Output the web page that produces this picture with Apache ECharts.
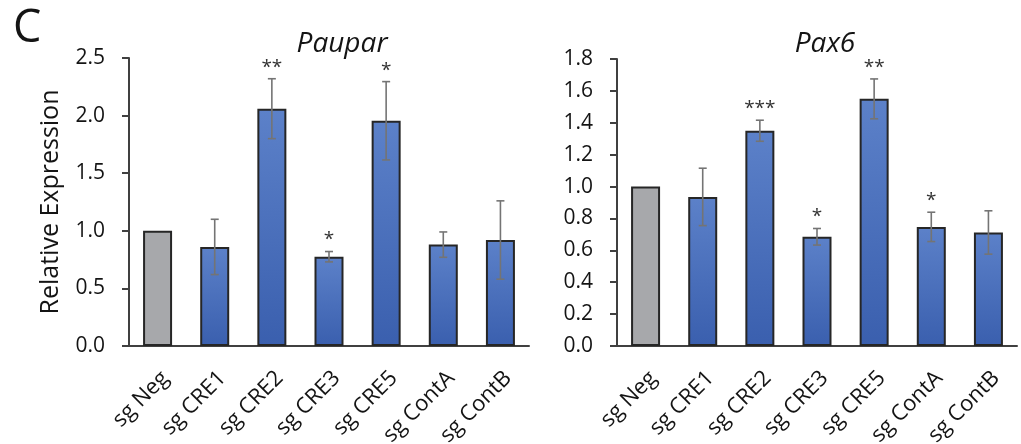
<!DOCTYPE html>
<html>
<head>
<meta charset="utf-8">
<script src="https://cdn.jsdelivr.net/npm/echarts@6/dist/echarts.min.js"></script>
<style>
html,body{margin:0;padding:0;background:#fff;}
#chart{width:1021px;height:444px;}
</style>
</head>
<body>
<div id="chart"></div>
<script>
const categories = ['sg Neg', 'sg CRE1', 'sg CRE2', 'sg CRE3', 'sg CRE5', 'sg ContA', 'sg ContB'];

const pauparValues = [1.00, 0.86, 2.06, 0.775, 1.955, 0.88, 0.92];
const pauparErrors = [0, 0.24, 0.26, 0.045, 0.34, 0.11, 0.34];
const pauparStars  = ['', '', '**', '*', '*', '', ''];

const pax6Values = [1.00, 0.935, 1.35, 0.685, 1.55, 0.747, 0.712];
const pax6Errors = [0, 0.18, 0.066, 0.052, 0.125, 0.092, 0.136];
const pax6Stars  = ['', '', '***', '*', '**', '*', ''];

const leftTicks = { min: 0, max: 2.5, interval: 0.5 };
const rightTicks = { min: 0, max: 1.8, interval: 0.2 };

const FONT = '"Open Sans", "DejaVu Sans", sans-serif';
const TXT = '#141414';

const blueGrad = new echarts.graphic.LinearGradient(0, 0, 0, 1, [
  { offset: 0, color: '#5c81c9' },
  { offset: 1, color: '#3a5fae' }
]);

function barData(values) {
  return values.map((v, i) => ({
    value: v,
    itemStyle: { color: i === 0 ? '#a7a8ab' : blueGrad }
  }));
}

function errData(values, errs) {
  return values.map((v, i) => [i, v, errs[i]]);
}

function starFor(seriesIndex, dataIndex) {
  return seriesIndex === 1 ? pauparStars[dataIndex] : pax6Stars[dataIndex];
}

function errRender(params, api) {
  const i = api.value(0), v = api.value(1), e = api.value(2);
  const star = starFor(params.seriesIndex, params.dataIndex);
  const children = [];
  const top = api.coord([i, v + e]);
  const bot = api.coord([i, v - e]);
  const cap = 4;
  if (e > 0) {
    const st = { stroke: '#747474', lineWidth: 1.6 };
    children.push({ type: 'line', shape: { x1: top[0], y1: top[1], x2: bot[0], y2: bot[1] }, style: st });
    children.push({ type: 'line', shape: { x1: top[0] - cap, y1: top[1], x2: top[0] + cap, y2: top[1] }, style: st });
    children.push({ type: 'line', shape: { x1: bot[0] - cap, y1: bot[1], x2: bot[0] + cap, y2: bot[1] }, style: st });
  }
  if (star) {
    children.push({
      type: 'text',
      x: top[0], y: top[1] - 2,
      style: { text: star, fill: '#333', font: '19px ' + FONT, align: 'center', verticalAlign: 'bottom' }
    });
  }
  return { type: 'group', children: children };
}

function xAxisCfg(gridIndex) {
  return {
    type: 'category', gridIndex: gridIndex, data: categories,
    axisLine: { lineStyle: { color: '#404040', width: 2 } },
    axisTick: { show: false },
    axisLabel: { rotate: 45, margin: 21, verticalAlign: 'top', fontSize: 22, color: TXT, fontFamily: FONT, interval: 0 }
  };
}

function yAxisCfg(gridIndex, ticks, name) {
  return {
    type: 'value', gridIndex: gridIndex, min: ticks.min, max: ticks.max, interval: ticks.interval,
    name: name, nameLocation: 'middle', nameGap: 66,
    nameTextStyle: { fontSize: 25, color: TXT, fontFamily: FONT },
    splitLine: { show: false },
    axisLine: { show: true, lineStyle: { color: '#404040', width: 2 } },
    axisTick: { show: true, length: 7, lineStyle: { color: '#404040', width: 2 } },
    axisLabel: { fontSize: 21, color: TXT, fontFamily: FONT, margin: 24, formatter: v => v.toFixed(1) }
  };
}

const chart = echarts.init(document.getElementById('chart'), null, { renderer: 'canvas' });
chart.setOption({
  animation: false,
  backgroundColor: '#fff',
  title: [
    { text: 'C', left: 8, top: 2, textStyle: { fontSize: 45, fontWeight: 'normal', color: TXT, fontFamily: FONT } },
    { text: 'Paupar', left: 337, top: 25, textAlign: 'center', textStyle: { fontSize: 28, fontStyle: 'italic', fontWeight: 'normal', color: TXT, fontFamily: FONT } },
    { text: 'Pax6', left: 820, top: 25, textAlign: 'center', textStyle: { fontSize: 28, fontStyle: 'italic', fontWeight: 'normal', color: TXT, fontFamily: FONT } }
  ],
  grid: [
    { left: 129, top: 58, width: 400, height: 288, containLabel: false, outerBoundsMode: 'none' },
    { left: 617, top: 59, width: 400, height: 287, containLabel: false, outerBoundsMode: 'none' }
  ],
  xAxis: [xAxisCfg(0), xAxisCfg(1)],
  yAxis: [yAxisCfg(0, leftTicks, 'Relative Expression'), yAxisCfg(1, rightTicks, '')],
  series: [
    { type: 'bar', xAxisIndex: 0, yAxisIndex: 0, barWidth: 29, data: barData(pauparValues),
      itemStyle: { borderColor: '#262626', borderWidth: 2 } },
    { type: 'custom', xAxisIndex: 0, yAxisIndex: 0, renderItem: errRender, data: errData(pauparValues, pauparErrors), z: 5 },
    { type: 'bar', xAxisIndex: 1, yAxisIndex: 1, barWidth: 29, data: barData(pax6Values),
      itemStyle: { borderColor: '#262626', borderWidth: 2 } },
    { type: 'custom', xAxisIndex: 1, yAxisIndex: 1, renderItem: errRender, data: errData(pax6Values, pax6Errors), z: 5 }
  ]
});
</script>
</body>
</html>
